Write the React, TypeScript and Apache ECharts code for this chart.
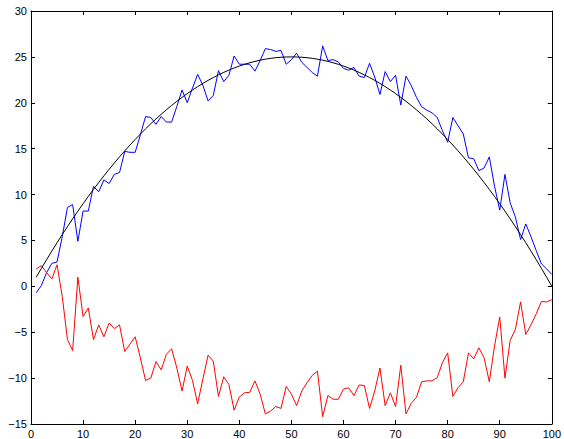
import React, { useEffect, useRef } from "react";
import * as echarts from "echarts";

const blueValues = [
  -0.7, 0.1, 1.5, 2.5, 2.65, 5.4, 8.6, 8.9, 4.9, 8.2,
  8.2, 10.9, 10.3, 11.6, 11.2, 12.2, 12.4, 14.7, 14.6, 14.6,
  16.5, 18.5, 18.4, 17.65, 18.5, 17.9, 17.9, 19.6, 21.4, 20.0,
  21.6, 23.1, 21.9, 20.2, 20.8, 23.5, 22.3, 23.0, 25.1, 24.2,
  24.2, 24.2, 23.45, 24.6, 25.9, 25.8, 25.6, 25.7, 24.2, 24.7,
  25.4, 24.4, 23.85, 23.3, 22.9, 26.2, 24.6, 24.7, 24.45, 23.75,
  23.55, 23.85, 22.9, 22.75, 24.3, 22.8, 20.9, 23.4, 22.3, 23.0,
  19.75, 22.9, 21.9, 20.6, 19.57, 19.2, 18.9, 18.4, 16.95, 15.7,
  18.4, 17.5, 16.6, 14.0, 13.9, 12.6, 12.9, 14.1, 10.9, 8.3,
  12.2, 9.1, 7.55, 5.1, 6.8, 5.4, 3.9, 2.45, 1.9, 1.3,
];

const redValues = [
  1.9, 2.25, 1.5, 0.8, 2.35, -1.1, -5.8, -7.0, 1.0, -3.3,
  -2.35, -5.8, -4.2, -5.5, -4.0, -4.6, -4.2, -7.1, -6.3, -5.5,
  -7.8, -10.25, -10.0, -8.2, -9.1, -7.4, -6.8, -8.9, -11.4, -8.7,
  -10.25, -12.8, -10.1, -7.5, -8.15, -12.0, -9.85, -10.7, -13.5, -12.05,
  -11.6, -11.55, -10.3, -11.75, -13.9, -13.6, -13.1, -13.3, -10.9, -11.75,
  -13.0, -11.4, -10.5, -9.7, -9.25, -14.2, -11.9, -12.3, -12.3, -11.2,
  -11.05, -11.9, -10.75, -10.8, -13.3, -11.4, -8.9, -13.0, -11.6, -13.1,
  -8.6, -13.9, -12.75, -12.1, -10.4, -10.3, -10.3, -9.95, -8.3, -7.25,
  -12.0, -11.05, -10.4, -7.25, -7.9, -6.7, -7.8, -10.4, -6.5, -3.35,
  -10.0, -5.9, -4.7, -1.7, -5.25, -4.2, -3.0, -1.65, -1.7, -1.45,
];

const blackValues = [
  0.99, 1.96, 2.91, 3.84, 4.75, 5.64, 6.51, 7.36, 8.19, 9.0,
  9.79, 10.56, 11.31, 12.04, 12.75, 13.44, 14.11, 14.76, 15.39, 16.0,
  16.59, 17.16, 17.71, 18.24, 18.75, 19.24, 19.71, 20.16, 20.59, 21.0,
  21.39, 21.76, 22.11, 22.44, 22.75, 23.04, 23.31, 23.56, 23.79, 24.0,
  24.19, 24.36, 24.51, 24.64, 24.75, 24.84, 24.91, 24.96, 24.99, 25.0,
  24.99, 24.96, 24.91, 24.84, 24.75, 24.64, 24.51, 24.36, 24.19, 24.0,
  23.79, 23.56, 23.31, 23.04, 22.75, 22.44, 22.11, 21.76, 21.39, 21.0,
  20.59, 20.16, 19.71, 19.24, 18.75, 18.24, 17.71, 17.16, 16.59, 16.0,
  15.39, 14.76, 14.11, 13.44, 12.75, 12.04, 11.31, 10.56, 9.79, 9.0,
  8.19, 7.36, 6.51, 5.64, 4.75, 3.84, 2.91, 1.96, 0.99, 0.0,
];

const xTicks = { min: 0, max: 100, interval: 10 };
const yTicks = { min: -15, max: 30, interval: 5 };

const toPairs = (vals: number[]) => vals.map((v, i) => [i + 1, v]);
const fmt = (v: number) => String(v).replace("-", "\u2212");

export default function App() {
  const ref = useRef<HTMLDivElement>(null);
  useEffect(() => {
    if (!ref.current) return;
    const chart = echarts.init(ref.current, undefined, { renderer: "svg" });
    const font = { fontFamily: "Liberation Sans, Arial, sans-serif", fontSize: 11, color: "#000" };
    const axisCommon = {
      type: "value" as const,
      axisLine: { show: true, onZero: false, lineStyle: { color: "#000", width: 1 } },
      axisTick: { show: true, inside: true, length: 4, lineStyle: { color: "#000" } },
      splitLine: { show: false },
    };
    chart.setOption({
      animation: false,
      backgroundColor: "#fff",
      grid: { left: 31, right: 9, top: 11, bottom: 15, containLabel: false },
      xAxis: [
        { ...axisCommon, position: "bottom", ...xTicks, axisLabel: { ...font, margin: 4, formatter: fmt } },
        { ...axisCommon, position: "top", ...xTicks, axisLabel: { show: false } },
      ],
      yAxis: [
        { ...axisCommon, position: "left", ...yTicks, axisLabel: { ...font, margin: 4, formatter: fmt } },
        { ...axisCommon, position: "right", ...yTicks, axisLabel: { show: false } },
      ],
      series: [
        { type: "line", data: toPairs(blueValues), showSymbol: false, lineStyle: { color: "#0000ff", width: 1 }, itemStyle: { color: "#0000ff" } },
        { type: "line", data: toPairs(redValues), showSymbol: false, lineStyle: { color: "#ff0000", width: 1 }, itemStyle: { color: "#ff0000" } },
        { type: "line", data: toPairs(blackValues), showSymbol: false, lineStyle: { color: "#000000", width: 1 }, itemStyle: { color: "#000000" } },
      ],
    });
    return () => chart.dispose();
  }, []);
  return (
    <div
      ref={ref}
      style={{ position: "absolute", left: 0, top: 0, width: 564, height: 439, background: "#fff" }}
    />
  );
}
